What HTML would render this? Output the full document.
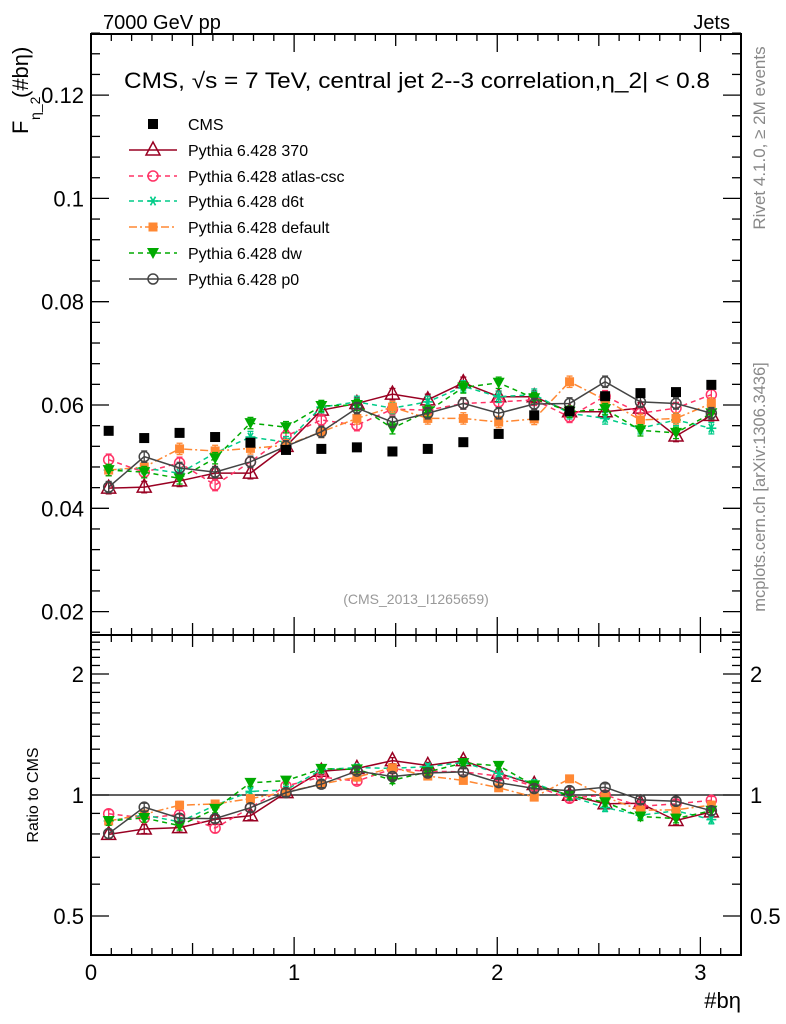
<!DOCTYPE html>
<html><head><meta charset="utf-8"><style>
body{margin:0;background:#fff}
svg{display:block;font-family:"Liberation Sans",sans-serif}
</style></head><body>
<svg id="c" width="786" height="1024" xmlns="http://www.w3.org/2000/svg"></svg>
<script>
const xCenters=[0.087,0.262,0.436,0.611,0.785,0.960,1.134,1.309,1.484,1.658,1.833,2.007,2.182,2.356,2.531,2.705,2.880,3.054];
const cmsVals=[0.0550,0.0536,0.0546,0.0538,0.0527,0.0513,0.0515,0.0518,0.0510,0.0515,0.0528,0.0544,0.0580,0.0588,0.0617,0.0623,0.0625,0.0639];
const p370=[0.0439,0.0441,0.0453,0.0468,0.0468,0.0520,0.0590,0.0603,0.0621,0.0610,0.0643,0.0616,0.0616,0.0587,0.0587,0.0594,0.0540,0.0580];
const pAtlas=[0.0494,0.0470,0.0488,0.0445,0.0490,0.0540,0.0571,0.0561,0.0592,0.0590,0.0603,0.0606,0.0610,0.0577,0.0617,0.0584,0.0594,0.0620];
const pD6t=[0.0474,0.0478,0.0468,0.0507,0.0538,0.0528,0.0596,0.0606,0.0594,0.0606,0.0636,0.0616,0.0620,0.0584,0.0574,0.0555,0.0571,0.0555];
const pDefault=[0.0474,0.0480,0.0515,0.0511,0.0516,0.0522,0.0548,0.0574,0.0596,0.0574,0.0574,0.0567,0.0573,0.0645,0.0610,0.0571,0.0574,0.0603];
const pDw=[0.0474,0.0470,0.0458,0.0497,0.0565,0.0557,0.0598,0.0600,0.0555,0.0588,0.0634,0.0643,0.0613,0.0587,0.0592,0.0551,0.0546,0.0584];
const pP0=[0.0441,0.0500,0.0478,0.0470,0.0490,0.0520,0.0548,0.0594,0.0567,0.0584,0.0603,0.0584,0.0602,0.0603,0.0645,0.0606,0.0603,0.0584];
const yTicks=[0.02,0.04,0.06,0.08,0.1,0.12];
const yTickLabels=["0.02","0.04","0.06","0.08","0.1","0.12"];
const rTicks=[0.5,1,2];
const xTicks=[0,1,2,3];

const S=document.getElementById('c');const NS='http://www.w3.org/2000/svg';
function el(t,a,p){const e=document.createElementNS(NS,t);for(const k in a)e.setAttribute(k,a[k]);(p||S).appendChild(e);return e;}
const L=91,R=741,T=34,M=635,B=955;
const xs=v=>L+(v-0)/3.2*(R-L);
const ys=v=>405+(0.06-v)*5165;
const rs=v=>795-Math.log2(v)*121;

let f=el('rect',{x:L,y:T,width:R-L,height:M-T,fill:'none',stroke:'#000','stroke-width':2});

f=el('rect',{x:L,y:M,width:R-L,height:B-M,fill:'none',stroke:'#000','stroke-width':2});


for(let i=0;i<=32;i++){const v=i/10,x=xs(v);const len=(i%10==0)?18:(i%5==0?12:7);
 for(const [y0,d] of [[M,-1],[T,1],[B,-1],[M,1]]){el('line',{x1:x,x2:x,y1:y0,y2:y0+d*len,stroke:'#000','stroke-width':1.3});}}
xTicks.forEach(v=>{const t=el('text',{x:xs(v),y:980,'font-size':22,'text-anchor':'middle'});t.textContent=v;
 });
for(let i=0;i<=30;i++){const v=0.016+i*0.004;if(v>0.132)break;const y=ys(v);const maj=Math.abs((v*1000)%20)<0.5||Math.abs((v*1000)%20-20)<0.5;const len=maj?18:9;
 el('line',{x1:L,x2:L+len,y1:y,y2:y,stroke:'#000','stroke-width':1.3});el('line',{x1:R,x2:R-len,y1:y,y2:y,stroke:'#000','stroke-width':1.3});}
yTicks.forEach((v,i)=>{const t=el('text',{x:84,y:ys(v)+8,'font-size':22,'text-anchor':'end'});t.textContent=yTickLabels[i];
 });
[0.4,0.5,0.6,0.7,0.8,0.9,1,1.1,1.2,1.3,1.4,1.5,1.6,1.7,1.8,1.9,2,2.1,2.2,2.3,2.4,2.5].forEach(v=>{const y=rs(v);const maj=[0.5,1,2].includes(v);const len=maj?18:9;
 el('line',{x1:L,x2:L+len,y1:y,y2:y,stroke:'#000','stroke-width':1.3});el('line',{x1:R,x2:R-len,y1:y,y2:y,stroke:'#000','stroke-width':1.3});});
rTicks.forEach(v=>{for(const [x,a] of [[84,'end'],[750,'start']]){const t=el('text',{x:x,y:rs(v)+8,'font-size':22,'text-anchor':a});t.textContent=v;
 }});
el('line',{x1:L,x2:R,y1:rs(1),y2:rs(1),stroke:'#000','stroke-width':1.3});

function txt(s,a,name){const t=el('text',a);t.textContent=s;return t;}
txt('7000 GeV pp',{x:103,y:29,'font-size':20},'energy-label');
txt('Jets',{x:730,y:29,'font-size':20,'text-anchor':'end'},'process-label');
txt('CMS, √s = 7 TeV, central jet 2--3 correlation,η_2| < 0.8',{x:417,y:88,'font-size':22,'text-anchor':'middle',textLength:586,lengthAdjust:'spacingAndGlyphs'},'plot-title');
txt('(CMS_2013_I1265659)',{x:416,y:604,'font-size':14,'text-anchor':'middle',fill:'#999'},'analysis-id');
txt('#bη',{x:741,y:1008,'font-size':22,'text-anchor':'end'},'x-axis-title');
txt('Ratio to CMS',{x:0,y:0,'font-size':16,'text-anchor':'middle',transform:'translate(38,795) rotate(-90)'},'ratio-axis-title');
txt('F',{x:0,y:0,'font-size':22,transform:'translate(28,134) rotate(-90)'},'y-axis-title');
txt('η_2',{x:0,y:0,'font-size':14,transform:'translate(40,120) rotate(-90)'},'y-axis-subscript');
txt('(#bη)',{x:0,y:0,'font-size':22,transform:'translate(28,98) rotate(-90)'},'y-axis-title-var');
txt('Rivet 4.1.0, ≥ 2M events',{x:0,y:0,'font-size':17,fill:'#888','text-anchor':'middle',transform:'translate(765,138) rotate(-90)'},'rivet-label');
txt('mcplots.cern.ch [arXiv:1306.3436]',{x:0,y:0,'font-size':16.5,fill:'#888','text-anchor':'middle',transform:'translate(765,487) rotate(-90)'},'mcplots-label');

function marker(g,type,x,y,c){
 if(type=='sq')el('rect',{x:x-5,y:y-5,width:10,height:10,fill:c},g);
 else if(type=='fsq')el('rect',{x:x-4.5,y:y-4.5,width:9,height:9,fill:c},g);
 else if(type=='tri')el('polygon',{points:`${x},${y-8} ${x-7},${y+5} ${x+7},${y+5}`,fill:'none',stroke:c,'stroke-width':1.5},g);
 else if(type=='dtri')el('polygon',{points:`${x},${y+6} ${x-6},${y-5} ${x+6},${y-5}`,fill:c},g);
 else if(type=='circ')el('circle',{cx:x,cy:y,r:5,fill:'none',stroke:c,'stroke-width':1.5},g);
 else if(type=='star'){for(const a of [0,60,120]){const r=a*Math.PI/180;el('line',{x1:x-5*Math.cos(r),y1:y-5*Math.sin(r),x2:x+5*Math.cos(r),y2:y+5*Math.sin(r),stroke:c,'stroke-width':1.6},g);}}
}
const series=[
 {name:'Pythia 6.428 370',vals:p370,c:'#990022',dash:'',m:'tri',id:'series-370'},
 {name:'Pythia 6.428 atlas-csc',vals:pAtlas,c:'#ff3366',dash:'5,4',m:'circ',id:'series-atlas-csc'},
 {name:'Pythia 6.428 d6t',vals:pD6t,c:'#00cc88',dash:'5,4',m:'star',id:'series-d6t'},
 {name:'Pythia 6.428 default',vals:pDefault,c:'#ff8833',dash:'8,3,2,3',m:'fsq',id:'series-default'},
 {name:'Pythia 6.428 dw',vals:pDw,c:'#00aa00',dash:'5,4',m:'dtri',id:'series-dw'},
 {name:'Pythia 6.428 p0',vals:pP0,c:'#444444',dash:'',m:'circ',id:'series-p0'}];
series.forEach(s=>{
 for(const [sc,gname] of [[ys,'main'],[rs,'ratio']]){
  const g=el('g',{});
  const vv=gname=='main'?s.vals:s.vals.map((v,i)=>v/cmsVals[i]);
  const err=gname=='main'?0.0011:0.021;
  el('polyline',{points:vv.map((v,i)=>xs(xCenters[i])+','+sc(v)).join(' '),fill:'none',stroke:s.c,'stroke-width':1.5,'stroke-dasharray':s.dash},g);
  vv.forEach((v,i)=>{const x=xs(xCenters[i]);const y1=sc(v+err),y2=sc(v-err);
   el('line',{x1:x,x2:x,y1:y1,y2:y2,stroke:s.c,'stroke-width':1.3},g);
   el('line',{x1:x-3,x2:x+3,y1:y1,y2:y1,stroke:s.c,'stroke-width':1.3},g);
   el('line',{x1:x-3,x2:x+3,y1:y2,y2:y2,stroke:s.c,'stroke-width':1.3},g);
   marker(g,s.m,x,sc(v),s.c);});
 }});
const gc=el('g',{});
cmsVals.forEach((v,i)=>marker(gc,'sq',xs(xCenters[i]),ys(v),'#000'));

const lg=el('g',{});
const rowsY=[124,150,176,201,227,253,279];
const e0=el('g',{},lg);
marker(e0,'sq',153,rowsY[0],'#000');
const t0=el('text',{x:188,y:rowsY[0]+6,'font-size':16},e0);t0.textContent='CMS';
series.forEach((s,k)=>{const y=rowsY[k+1];const e=el('g',{},lg);
 el('line',{x1:129,x2:177,y1:y,y2:y,stroke:s.c,'stroke-width':1.5,'stroke-dasharray':s.dash},e);
 marker(e,s.m,153,y,s.c);
 const t=el('text',{x:188,y:y+6,'font-size':16},e);t.textContent=s.name;});
</script>
</body></html>
